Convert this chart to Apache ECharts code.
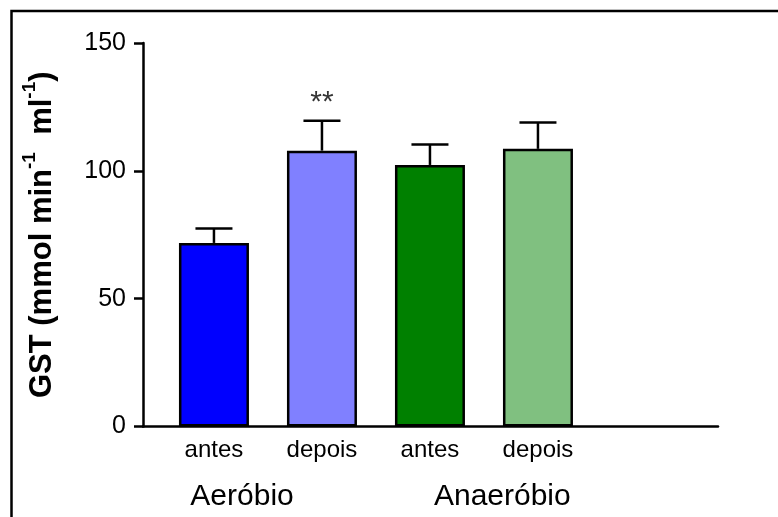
<!DOCTYPE html>
<html>
<head>
<meta charset="utf-8">
<script src="https://cdn.jsdelivr.net/npm/echarts@6/dist/echarts.min.js"></script>
<style>
  html, body { margin: 0; padding: 0; background: #fff; }
  #chart { width: 778px; height: 517px; }
</style>
</head>
<body>
<div id="chart"></div>
<script>
// GST activity before/after training, aerobic vs anaerobic groups
var categories = ['antes', 'depois', 'antes', 'depois'];
var means = [71.8, 107.9, 102.3, 108.6];
var sem = [5.6, 11.7, 8.0, 10.3];
var barColors = ['#0000ff', '#8080ff', '#008000', '#80c080'];
var significance = ['', '**', '', ''];
var groupNames = ['Aeróbio', 'Anaeróbio'];
var groupPositions = [0.26, 2.67];
var yTicks = [0, 50, 100, 150];

var font = 'Arial, "Liberation Sans", sans-serif';
var chart = echarts.init(document.getElementById('chart'), null, { renderer: 'canvas' });

var barData = means.map(function (v, i) {
  return { value: [i, v], itemStyle: { color: barColors[i] } };
});
var errData = means.map(function (v, i) { return [i, v, v + sem[i]]; });
var starData = means.map(function (v, i) {
  return { value: [i, v + sem[i]], label: { show: !!significance[i], formatter: significance[i] } };
});

chart.setOption({
  animation: false,
  backgroundColor: '#fff',
  grid: { left: 143, right: 60, top: 43, bottom: 90.5, containLabel: false },
  xAxis: [{
    type: 'value',
    min: -0.657, max: 4.667,
    axisLine: { show: true, onZero: false, lineStyle: { color: '#000', width: 2.5 } },
    axisTick: { show: false },
    splitLine: { show: false },
    axisLabel: {
      customValues: [0, 1, 2, 3],
      formatter: function (v) { return categories[Math.round(v)]; },
      color: '#000', fontFamily: font, fontSize: 24, margin: 12
    }
  }, {
    type: 'value',
    position: 'bottom',
    min: -0.657, max: 4.667,
    axisLine: { show: false, onZero: false },
    axisTick: { show: false },
    splitLine: { show: false },
    axisLabel: {
      customValues: groupPositions,
      formatter: function (v) {
        var k = groupPositions.indexOf(v);
        return k >= 0 ? groupNames[k] : '';
      },
      color: '#000', fontFamily: font, fontSize: 30, margin: 55
    }
  }],
  yAxis: {
    type: 'value',
    min: 0, max: 150, interval: 50,
    axisLine: { show: true, onZero: false, lineStyle: { color: '#000', width: 2.5 } },
    axisTick: { show: true, length: 9, lineStyle: { color: '#000', width: 2.5 } },
    splitLine: { show: false },
    axisLabel: { color: '#000', fontFamily: font, fontSize: 25, margin: 17 },
    name: '{a|GST (mmol min}{s|-1}{a|  ml}{s|-1}{a|)}',
    nameLocation: 'middle',
    nameRotate: 90,
    nameGap: 85,
    nameTextStyle: {
      rich: {
        a: { fontFamily: font, fontSize: 31, fontWeight: 'bold', color: '#000', lineHeight: 38, verticalAlign: 'bottom' },
        s: { fontFamily: font, fontSize: 19, fontWeight: 'bold', color: '#000', lineHeight: 38, verticalAlign: 'top' }
      }
    }
  },
  series: [{
    type: 'bar',
    xAxisIndex: 0,
    data: barData,
    barWidth: 70,
    itemStyle: { borderColor: '#000', borderWidth: 2.5 },
    z: 3
  }, {
    type: 'custom',
    xAxisIndex: 0,
    data: errData,
    encode: { x: 0, y: [1, 2] },
    renderItem: function (params, api) {
      var x = api.value(0);
      var base = api.coord([x, api.value(1)]);
      var top = api.coord([x, api.value(2)]);
      var half = 18.5;
      var style = { stroke: '#000', lineWidth: 2.5, fill: null };
      return {
        type: 'group',
        children: [
          { type: 'line', shape: { x1: base[0], y1: base[1], x2: top[0], y2: top[1] }, style: style },
          { type: 'line', shape: { x1: top[0] - half, y1: top[1], x2: top[0] + half, y2: top[1] }, style: style }
        ]
      };
    },
    z: 2
  }, {
    type: 'scatter',
    xAxisIndex: 0,
    data: starData,
    symbolSize: 0,
    label: {
      position: 'top', distance: 3,
      color: '#000', fontFamily: font, fontSize: 30
    },
    z: 4
  }],
  graphic: [{
    type: 'rect',
    shape: { x: 11.5, y: 11, width: 820, height: 560 },
    style: { fill: null, stroke: '#000', lineWidth: 2.5 },
    silent: true
  }]
});
</script>
</body>
</html>
